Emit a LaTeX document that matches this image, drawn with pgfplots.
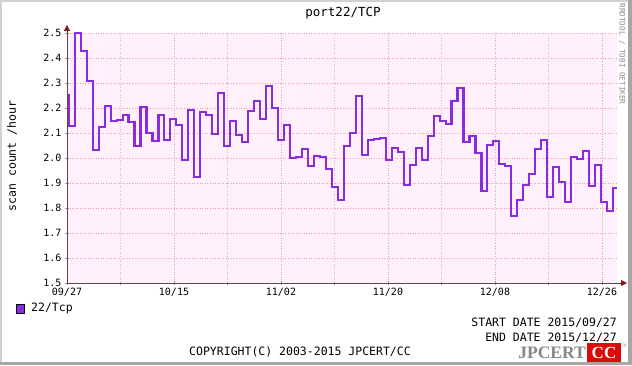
\documentclass[border=0pt]{standalone}
\usepackage{pgfplots}
\pgfplotsset{compat=1.18}
\usepackage{fontspec}
\setmainfont{DejaVu Sans Mono}
\newfontfamily\logofont{Liberation Serif}
\usetikzlibrary{arrows.meta}
\definecolor{plotbg}{RGB}{255,240,252}
\definecolor{majorgrid}{RGB}{232,160,170}
\definecolor{minorgrid}{RGB}{214,186,204}
\definecolor{series}{RGB}{138,43,226}
\definecolor{axiscol}{RGB}{100,70,70}
\definecolor{arrowcol}{RGB}{140,20,20}
\definecolor{logored}{RGB}{220,10,10}
\definecolor{logogray}{RGB}{135,135,135}
\pgfplotstableread{
x y
0.000 2.251
0.290 2.127
1.296 2.500
2.303 2.427
3.309 2.307
4.315 2.033
5.322 2.123
6.328 2.207
7.334 2.147
8.340 2.151
9.347 2.171
10.353 2.143
11.359 2.047
12.366 2.203
13.372 2.099
14.378 2.067
15.385 2.173
16.391 2.071
17.397 2.157
18.403 2.131
19.410 1.991
20.416 2.193
21.422 1.923
22.429 2.185
23.435 2.171
24.441 2.096
25.448 2.259
26.454 2.047
27.460 2.149
28.466 2.091
29.473 2.064
30.479 2.187
31.485 2.227
32.492 2.155
33.498 2.287
34.504 2.199
35.511 2.071
36.517 2.131
37.523 1.999
38.529 2.003
39.536 2.035
40.542 1.967
41.548 2.007
42.555 2.003
43.561 1.955
44.567 1.883
45.574 1.831
46.580 2.047
47.586 2.099
48.592 2.247
49.599 2.011
50.605 2.071
51.611 2.075
52.618 2.079
53.624 1.991
54.630 2.039
55.637 2.023
56.643 1.891
57.649 1.971
58.655 2.039
59.662 1.991
60.668 2.087
61.674 2.167
62.681 2.147
63.687 2.135
64.693 2.227
65.700 2.279
66.706 2.063
67.712 2.087
68.718 2.019
69.725 1.867
70.731 2.051
71.737 2.067
72.744 1.975
73.750 1.967
74.756 1.767
75.763 1.831
76.769 1.891
77.775 1.935
78.781 2.035
79.788 2.071
80.794 1.843
81.800 1.963
82.807 1.903
83.813 1.823
84.819 2.003
85.826 1.995
86.832 2.027
87.838 1.887
88.844 1.971
89.851 1.823
90.857 1.787
91.863 1.879
92.530 1.879
}\datatable
\begin{document}
\begin{tikzpicture}[x=1pt,y=1pt]
% page background and frame
\fill[white] (0,0) rectangle (632,365);
\fill[black!18] (0,363) rectangle (632,365);
\fill[black!18] (0,0) rectangle (2,365);
\fill[black!35] (628,0) rectangle (632,365);
\fill[black!35] (0,0) rectangle (632,3);
\begin{axis}[
  at={(67pt,82pt)}, anchor=south west,
  scale only axis, width=550pt, height=250pt,
  xmin=0, xmax=92.53, ymin=1.5, ymax=2.5,
  clip=false,
  axis background/.style={fill=plotbg},
  axis line style={draw=none},
  xtick={0,18,36,54,72,90},
  xticklabels={09/27,10/15,11/02,11/20,12/08,12/26},
  minor xtick={9,27,45,63,81},
  ytick={1.5,1.6,1.7,1.8,1.9,2.0,2.1,2.2,2.3,2.4,2.5},
  yticklabels={1.5,1.6,1.7,1.8,1.9,2.0,2.1,2.2,2.3,2.4,2.5},
  xtick pos=left, ytick pos=left,
  tick align=center,
  major tick length=4pt, minor tick length=3pt,
  tick style={axiscol!60, line width=0.5pt},
  grid=both,
  major grid style={majorgrid, line width=0.8pt, dash pattern=on 1pt off 1.6pt},
  minor grid style={minorgrid, line width=0.8pt, dash pattern=on 1pt off 1.6pt},
  xticklabel style={font=\fontsize{10}{12}\selectfont, text=black},
  yticklabel style={font=\fontsize{10}{12}\selectfont, text=black},
]
\addplot[const plot, series, line width=2.1pt, line join=miter] table[x=x,y=y] {\datatable};
\end{axis}
% axis lines with arrows
\draw[axiscol, line width=0.8pt, -{Triangle[length=6pt,width=6pt]}, arrowcol] (67,82) -- (627,82);
\draw[axiscol, line width=0.8pt, -{Triangle[length=6pt,width=6pt]}, arrowcol] (67,82) -- (67,340);
\draw[axiscol, line width=0.8pt] (67,82) -- (619,82);
\draw[axiscol, line width=0.8pt] (67,82) -- (67,333);
% title and labels
\node[font=\fontsize{12.5}{14}\selectfont] at (343,352) {port22/TCP};
\node[font=\fontsize{11.5}{13}\selectfont, rotate=90] at (12,209) {scan count /hour};
\node[font=\fontsize{7.6}{9}\selectfont, text=black!45, rotate=-90, inner sep=0pt] at (622,311) {RRDTOOL / TOBI OETIKER};
% legend
\draw[black, fill=series, line width=0.6pt] (16,52) rectangle (24,61);
\node[font=\fontsize{11.5}{13}\selectfont, anchor=west, inner sep=0pt] at (31,57) {22/Tcp};
% footer
\node[font=\fontsize{11.5}{13}\selectfont, anchor=east, inner sep=0pt] at (617,42) {START DATE 2015/09/27};
\node[font=\fontsize{11.5}{13}\selectfont, anchor=east, inner sep=0pt] at (617,27) {END DATE 2015/12/27};
\node[font=\fontsize{11.5}{13}\selectfont, inner sep=0pt] at (300,13) {COPYRIGHT(C) 2003-2015 JPCERT/CC};
% logo
\node[font=\logofont\bfseries\fontsize{17.5}{18}\selectfont, text=logogray, anchor=east, inner sep=0pt] at (586,12) {JPCERT};
\fill[logored] (587,3) rectangle (621,22);
\node[font=\logofont\bfseries\fontsize{17}{18}\selectfont, text=white, inner sep=0pt] at (604,12) {CC};
\node[font=\fontsize{5}{6}\selectfont, text=logogray, inner sep=0pt] at (625,19) {®};
\end{tikzpicture}
\end{document}
